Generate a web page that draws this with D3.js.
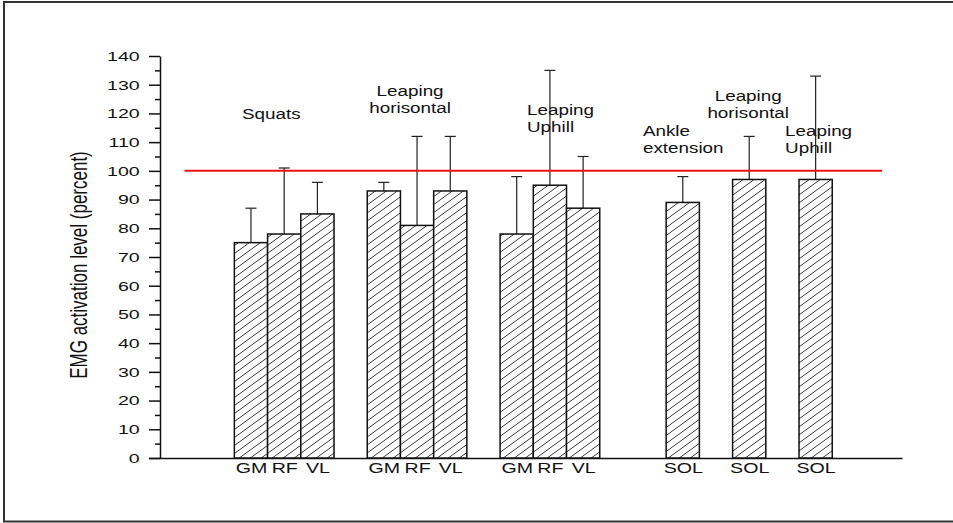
<!DOCTYPE html>
<meta charset="utf-8">
<title>EMG activation level</title>
<script src="https://d3js.org/d3.v7.min.js"></script>
<style>
  body { margin: 0; background: #fff; }
  text { font-family: "Liberation Sans", Arial, sans-serif; fill: #111; }
  .axis path, .axis line { stroke: #111; stroke-width: 1.5px; }
  .axis text { font-size: 13.5px; }
</style>
<div id="chart"></div>
<script>
// data
var muscles = ["GM", "RF", "VL", "GM", "RF", "VL", "GM", "RF", "VL", "SOL", "SOL", "SOL"];
var slots   = [0, 1, 2, 4, 5, 6, 8, 9, 10, 13, 15, 17];
var means   = [75, 78, 85, 93, 81, 93, 78, 95, 87, 89, 97, 97];
var upper   = [87, 101, 96, 96, 112, 112, 98, 135, 105, 98, 112, 133];
var yTicks  = [0, 10, 20, 30, 40, 50, 60, 70, 80, 90, 100, 110, 120, 130, 140];
var yMinor  = [5, 15, 25, 35, 45, 55, 65, 75, 85, 95, 105, 115, 125, 135];
var exercises = [["Squats"], ["Leaping", "horisontal"], ["Leaping", "Uphill"],
                 ["Ankle", "extension"], ["Leaping", "horisontal"], ["Leaping", "Uphill"]];
var reference = 100;

var W = 953, H = 523;
var sx = 1.45;   // the original figure is stretched sideways

var svg = d3.select("#chart").append("svg")
    .attr("width", W).attr("height", H);

// outer frame
svg.append("rect")
    .attr("x", 4).attr("y", 2)
    .attr("width", 1000).attr("height", 519.5)
    .attr("fill", "none").attr("stroke", "#333").attr("stroke-width", 2);

var x = d3.scaleLinear().domain([-3.07, 19.6]).range([149, 902]);
var y = d3.scaleLinear().domain([0, 140]).range([458, 56]);
var bw = x(1) - x(0);

// hatch pattern
var pw = 11, ph = 8;
var pat = svg.append("defs").append("pattern")
    .attr("id", "hatch")
    .attr("patternUnits", "userSpaceOnUse")
    .attr("width", pw).attr("height", ph);
pat.append("rect").attr("width", pw).attr("height", ph).attr("fill", "#fff");
[-1, 0, 1].forEach(function(k) {
  pat.append("line")
    .attr("x1", -2).attr("y1", ph + k * ph + 2 * ph / pw)
    .attr("x2", pw + 2).attr("y2", k * ph - 2 * ph / pw)
    .attr("stroke", "#222").attr("stroke-width", 0.9);
});

// y axis, major and minor ticks
var yAxis = svg.append("g").attr("class", "axis")
    .attr("transform", "translate(160,0)")
    .call(d3.axisLeft(y).tickValues(yTicks).tickSize(11).tickSizeOuter(0).tickPadding(3));
yAxis.selectAll("text").attr("transform", "scale(" + sx + ",1)");

svg.append("g").attr("class", "axis")
    .attr("transform", "translate(160,0)")
    .call(d3.axisLeft(y).tickValues(yMinor).tickSize(5).tickFormat(""))
    .select(".domain").remove();

// baseline with muscle labels
var xAxis = svg.append("g").attr("class", "axis")
    .attr("transform", "translate(0," + y(0) + ")")
    .call(d3.axisBottom(x).tickValues(slots).tickSize(0).tickSizeOuter(0).tickPadding(5)
      .tickFormat(function(d, i) { return muscles[i]; }));
xAxis.selectAll("text").style("font-size", "14px")
    .attr("transform", "scale(1.4,1)");

// error bars
var err = svg.append("g");
slots.forEach(function(s, i) {
  var cx = x(s);
  err.append("line")
    .attr("x1", cx).attr("x2", cx)
    .attr("y1", y(means[i])).attr("y2", y(upper[i]))
    .attr("stroke", "#222").attr("stroke-width", 1.2);
  err.append("line")
    .attr("x1", cx - 5.5).attr("x2", cx + 5.5)
    .attr("y1", y(upper[i])).attr("y2", y(upper[i]))
    .attr("stroke", "#222").attr("stroke-width", 1.2);
});

// bars
svg.selectAll("rect.bar")
  .data(means)
  .enter().append("rect")
    .attr("class", "bar")
    .attr("x", function(d, i) { return x(slots[i]) - bw / 2; })
    .attr("y", function(d) { return y(d); })
    .attr("width", bw)
    .attr("height", function(d) { return y(0) - y(d); })
    .attr("fill", "url(#hatch)")
    .attr("stroke", "#111").attr("stroke-width", 1.5);

// 100 % reference line
svg.append("line")
    .attr("x1", x(-2)).attr("x2", x(19))
    .attr("y1", y(reference)).attr("y2", y(reference))
    .attr("stroke", "#ee1111").attr("stroke-width", 2);

// exercise titles (slot position, value of first baseline, anchor)
var titleAt = [
  {s: -0.27, v: 118.2, a: "start"},
  {s: 4.79,  v: 126.2, a: "middle"},
  {s: 8.31,  v: 119.6, a: "start"},
  {s: 11.8,  v: 112.3, a: "start"},
  {s: 14.97, v: 124.5, a: "middle"},
  {s: 16.08, v: 112.0, a: "start"}
];
exercises.forEach(function(lines, i) {
  var p = titleAt[i];
  lines.forEach(function(t, j) {
    svg.append("text")
      .attr("transform", "translate(" + x(p.s) + "," + (y(p.v) + j * 17) + ") scale(1.3,1)")
      .attr("text-anchor", p.a)
      .style("font-size", "14.5px")
      .text(t);
  });
});

// y axis title
svg.append("text")
    .attr("transform", "translate(87,265) scale(" + sx + ",1) rotate(-90)")
    .attr("text-anchor", "middle")
    .style("font-size", "17px")
    .text("EMG activation level (percent)");
</script>
